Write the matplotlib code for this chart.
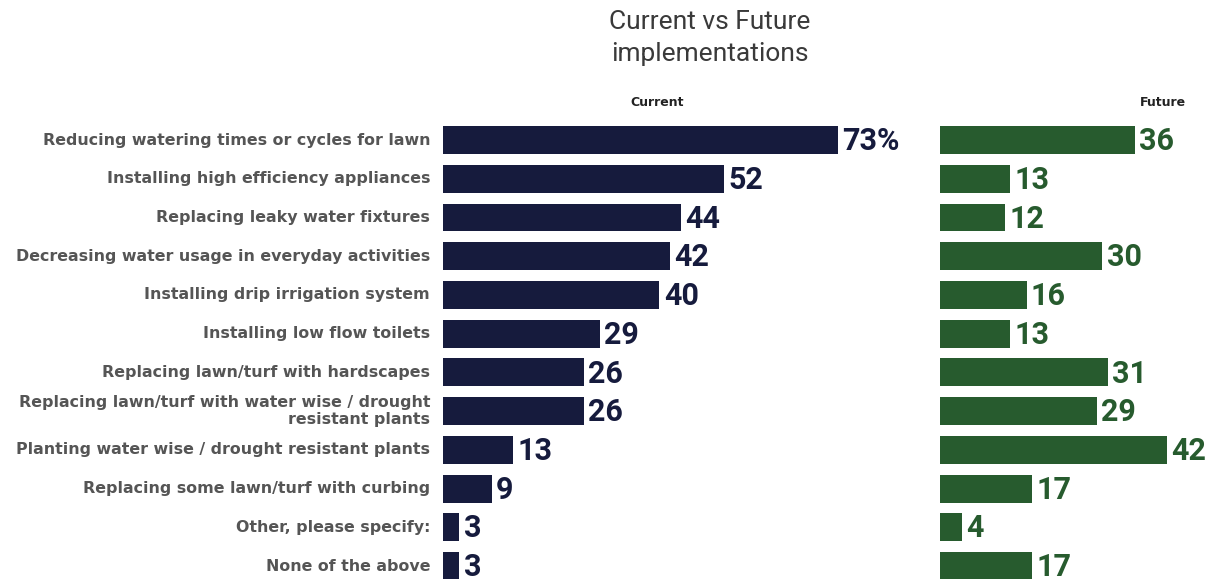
import matplotlib
matplotlib.use("Agg")
import matplotlib.pyplot as plt

categories = [
    "Reducing watering times or cycles for lawn",
    "Installing high efficiency appliances",
    "Replacing leaky water fixtures",
    "Decreasing water usage in everyday activities",
    "Installing drip irrigation system",
    "Installing low flow toilets",
    "Replacing lawn/turf with hardscapes",
    "Replacing lawn/turf with water wise / drought\nresistant plants",
    "Planting water wise / drought resistant plants",
    "Replacing some lawn/turf with curbing",
    "Other, please specify:",
    "None of the above",
]
current = [73, 52, 44, 42, 40, 29, 26, 26, 13, 9, 3, 3]
future = [36, 13, 12, 30, 16, 13, 31, 29, 42, 17, 4, 17]

NAVY = "#161b3d"
GREEN = "#275b2e"
LABEL = "#555555"

W, H = 1222, 579
fig = plt.figure(figsize=(W / 100, H / 100), dpi=100)

px = 5.41  # pixels per unit
top_px, bot_px = 121, 579
row0, step = 140, 38.73
ytop = -(row0 - top_px) / step
ybot = (bot_px - row0) / step

def add_axes(left_px, right_px):
    ax = fig.add_axes([left_px / W, 1 - bot_px / H, (right_px - left_px) / W, (bot_px - top_px) / H])
    ax.set_xlim(0, (right_px - left_px) / px)
    ax.set_ylim(ybot, ytop)
    ax.axis("off")
    return ax

ax1 = add_axes(443, 920)
ax2 = add_axes(940, 1222)
ys = list(range(len(categories)))

ax1.barh(ys, current, height=0.72, color=NAVY)
ax2.barh(ys, future, height=0.72, color=GREEN)

for y, v in zip(ys, current):
    txt = f"{v}%" if y == 0 else f"{v}"
    ax1.text(v + 0.8, y + 0.03, txt, va="center", ha="left", fontsize=22, fontweight="semibold",
             color=NAVY, family="Roboto")
for y, v in zip(ys, future):
    ax2.text(v + 0.8, y + 0.03, f"{v}", va="center", ha="left", fontsize=22, fontweight="semibold",
             color=GREEN, family="Roboto")

for y, c in zip(ys, categories):
    ax1.text(-2.4, y, c, va="center", ha="right", fontsize=11.4, fontweight="bold",
             color=LABEL, family="DejaVu Sans", linespacing=1.15)

fig.text(710 / W, 1 - 38 / H, "Current vs Future\nimplementations", ha="center", va="center",
         fontsize=19, color="#3a3a3a", family="Roboto", fontweight="normal", linespacing=1.45)
fig.text(657 / W, 1 - 102 / H, "Current", ha="center", va="center", fontsize=9,
         fontweight="bold", color="#222222", family="DejaVu Sans")
fig.text(1163 / W, 1 - 102 / H, "Future", ha="center", va="center", fontsize=9,
         fontweight="bold", color="#222222", family="DejaVu Sans")

fig.savefig("out.png", dpi=100, facecolor="white")
